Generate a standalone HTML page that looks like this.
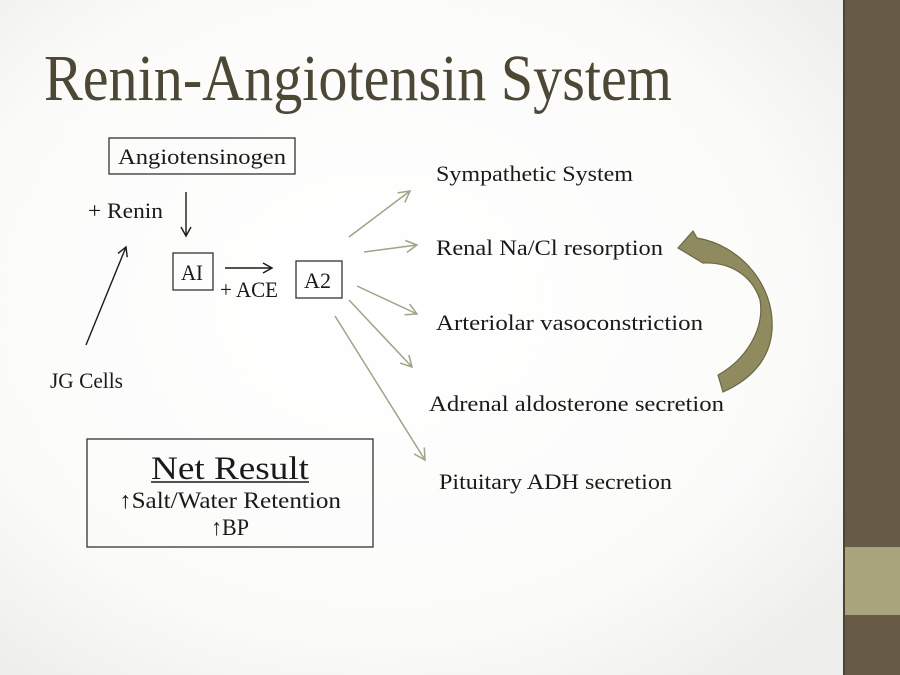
<!DOCTYPE html>
<html><head><meta charset="utf-8"><style>
html,body{margin:0;padding:0;background:#fff}
svg{display:block}
text{font-family:"Liberation Serif","DejaVu Serif",serif;fill:#1a1a1a}
</style></head><body>
<svg width="900" height="675" viewBox="0 0 900 675" xmlns="http://www.w3.org/2000/svg">
<defs>
<radialGradient id="bg" cx="0.45" cy="0.45" r="0.7">
<stop offset="0" stop-color="#ffffff"/><stop offset="0.7" stop-color="#fbfbfa"/><stop offset="1" stop-color="#eeeeec"/>
</radialGradient>
<marker id="ak" markerWidth="12" markerHeight="12" refX="10" refY="6" orient="auto" markerUnits="userSpaceOnUse">
<path d="M1,1 L10,6 L1,11" fill="none" stroke="#1a1a1a" stroke-width="1.4"/></marker>
<marker id="ag" markerWidth="14" markerHeight="14" refX="12" refY="7" orient="auto" markerUnits="userSpaceOnUse">
<path d="M1,1 L12,7 L1,13" fill="none" stroke="#a2a286" stroke-width="1.5"/></marker>
</defs>
<rect width="843" height="675" fill="url(#bg)"/>
<rect x="843" y="0" width="57" height="675" fill="#675b48"/>
<rect x="843" y="547" width="57" height="68" fill="#a9a47c"/>
<rect x="843" y="0" width="2" height="675" fill="#4a4538"/>

<text x="44" y="100" font-size="66" textLength="628" lengthAdjust="spacingAndGlyphs" style="fill:#4d4836">Renin-Angiotensin System</text>

<rect x="109" y="138" width="186" height="36" fill="none" stroke="#333" stroke-width="1.3"/>
<text x="118" y="164" font-size="22" textLength="168" lengthAdjust="spacingAndGlyphs">Angiotensinogen</text>
<text x="88" y="218" font-size="22" textLength="75" lengthAdjust="spacingAndGlyphs">+ Renin</text>
<line x1="186" y1="192" x2="186" y2="236" stroke="#1a1a1a" stroke-width="1.4" marker-end="url(#ak)"/>
<line x1="86" y1="345" x2="126" y2="247" stroke="#1a1a1a" stroke-width="1.4" marker-end="url(#ak)"/>
<text x="50" y="388" font-size="22" textLength="73" lengthAdjust="spacingAndGlyphs">JG Cells</text>

<rect x="173" y="253" width="40" height="37" fill="none" stroke="#333" stroke-width="1.3"/>
<text x="181" y="280" font-size="22" textLength="22" lengthAdjust="spacingAndGlyphs">AI</text>
<line x1="225" y1="268" x2="272" y2="268" stroke="#1a1a1a" stroke-width="1.4" marker-end="url(#ak)"/>
<text x="220" y="297" font-size="22" textLength="58" lengthAdjust="spacingAndGlyphs">+ ACE</text>
<rect x="296" y="261" width="46" height="37" fill="none" stroke="#333" stroke-width="1.3"/>
<text x="304" y="288" font-size="22" textLength="27" lengthAdjust="spacingAndGlyphs">A2</text>

<g stroke="#a2a286" stroke-width="1.5" marker-end="url(#ag)">
<line x1="349" y1="237" x2="410" y2="191"/>
<line x1="364" y1="252" x2="417" y2="245"/>
<line x1="357" y1="286" x2="417" y2="314"/>
<line x1="349" y1="300" x2="412" y2="367"/>
<line x1="335" y1="316" x2="425" y2="460"/>
</g>

<text x="436" y="181" font-size="22" textLength="197" lengthAdjust="spacingAndGlyphs">Sympathetic System</text>
<text x="436" y="255" font-size="22" textLength="227" lengthAdjust="spacingAndGlyphs">Renal Na/Cl resorption</text>
<text x="436" y="330" font-size="22" textLength="267" lengthAdjust="spacingAndGlyphs">Arteriolar vasoconstriction</text>
<text x="429" y="411" font-size="22" textLength="295" lengthAdjust="spacingAndGlyphs">Adrenal aldosterone secretion</text>
<text x="439" y="489" font-size="22" textLength="233" lengthAdjust="spacingAndGlyphs">Pituitary ADH secretion</text>

<path d="M678 248 L693 231 L697 238 C740 245 775 285 772 330 C770 360 750 380 723 392 L718 375 C745 360 765 330 760 300 C752 275 730 262 703 263 Z" fill="#8f8b5f" stroke="#6b6744" stroke-width="1.2"/>

<rect x="87" y="439" width="286" height="108" fill="none" stroke="#333" stroke-width="1.3"/>
<text x="230" y="479" font-size="33" text-anchor="middle" textLength="158" lengthAdjust="spacingAndGlyphs">Net Result</text>
<line x1="151" y1="482" x2="309" y2="482" stroke="#1a1a1a" stroke-width="1.6"/>
<text x="230" y="508" font-size="23" text-anchor="middle" textLength="222" lengthAdjust="spacingAndGlyphs">↑Salt/Water Retention</text>
<text x="230" y="535" font-size="23" text-anchor="middle" textLength="38" lengthAdjust="spacingAndGlyphs">↑BP</text>
</svg>
</body></html>
